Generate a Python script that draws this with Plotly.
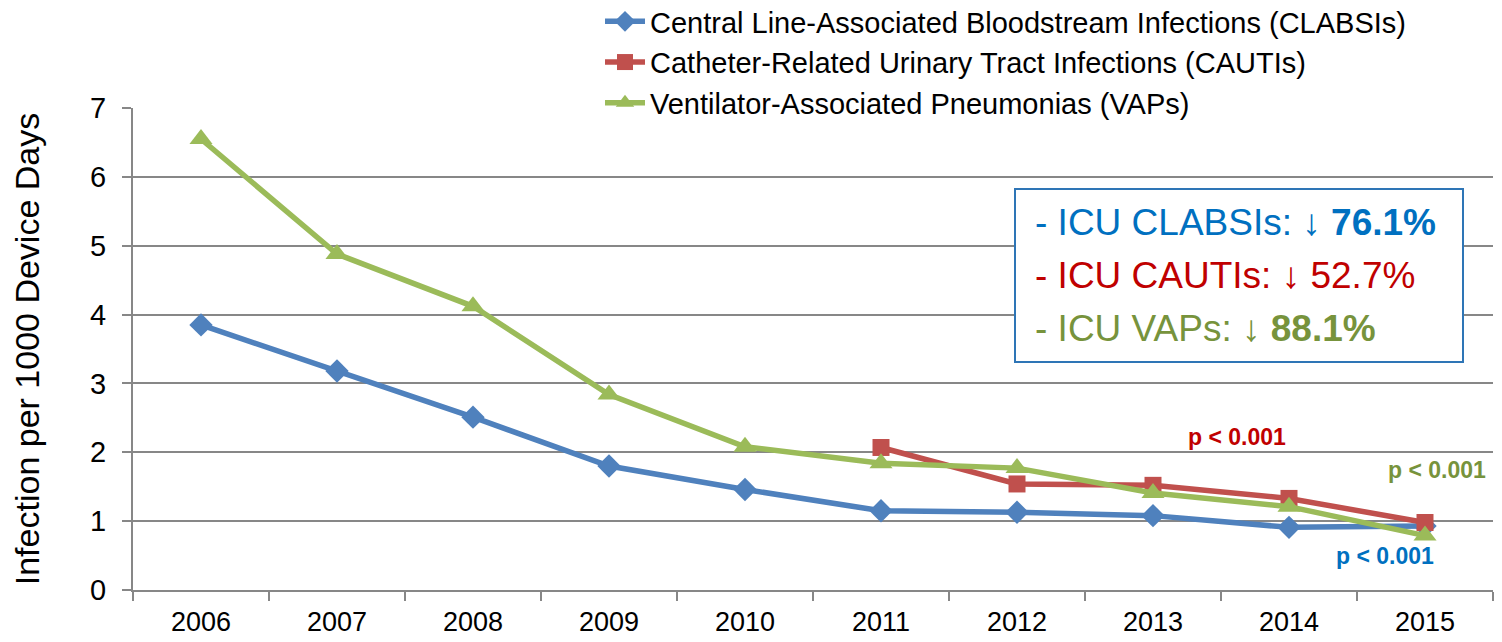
import plotly.graph_objects as go

years = ["2006", "2007", "2008", "2009", "2010", "2011", "2012", "2013", "2014", "2015"]
clabsi = [3.85, 3.18, 2.51, 1.80, 1.46, 1.15, 1.13, 1.08, 0.91, 0.93]
cauti = [None, None, None, None, None, 2.07, 1.54, 1.52, 1.33, 0.98]
vap = [6.55, 4.88, 4.12, 2.84, 2.08, 1.84, 1.77, 1.41, 1.21, 0.79]

names = ["Central Line-Associated Bloodstream Infections (CLABSIs)",
         "Catheter-Related Urinary Tract Infections (CAUTIs)",
         "Ventilator-Associated Pneumonias (VAPs)"]
y_ticks = [0, 1, 2, 3, 4, 5, 6, 7]

FONT = "Liberation Sans, Arial, sans-serif"

# page offset (default body margin) compensation
OFF = 8
L, T, R, B = 133, 108, 1493, 590  # plot area in page pixels
W, H = 1502 - OFF, 642 - OFF
PW, PH = R - L, B - T


def px(x):
    return (x - L) / PW


def py(y):
    return (B - y) / PH


fig = go.Figure()
fig.add_trace(go.Scatter(x=years, y=clabsi, name=names[0], mode="lines+markers",
                         line=dict(color="#4F81BD", width=5.5),
                         marker=dict(symbol="diamond", size=18, color="#4F81BD")))
fig.add_trace(go.Scatter(x=years, y=cauti, name=names[1], mode="lines+markers",
                         line=dict(color="#C0504D", width=5.5),
                         marker=dict(symbol="square", size=17, color="#C0504D")))
fig.add_trace(go.Scatter(x=years, y=vap, name=names[2], mode="lines+markers",
                         line=dict(color="#9BBB59", width=5.5),
                         marker=dict(symbol="triangle-up", size=20, color="#9BBB59")))

grid = "#878787"
fig.update_layout(
    width=W, height=H,
    margin=dict(l=L - OFF, r=W - (R - OFF), t=T - OFF, b=H - (B - OFF), autoexpand=False),
    paper_bgcolor="white", plot_bgcolor="white",
    font=dict(family=FONT, color="black"),
    showlegend=True,
    legend=dict(x=px(600), y=py(-4), xanchor="left", yanchor="top",
                font=dict(size=29, family=FONT), bgcolor="rgba(0,0,0,0)",
                tracegroupgap=0, itemwidth=40),
    xaxis=dict(type="category", range=[-0.5, 9.5], tickson="boundaries",
               ticks="outside", ticklen=9, tickwidth=2, tickcolor=grid,
               showline=True, linecolor=grid, linewidth=2, showgrid=False,
               ticklabelstandoff=7,
               tickfont=dict(size=27, family=FONT)),
    yaxis=dict(range=[0, 7], tickvals=y_ticks, ticks="outside", ticklen=9,
               tickwidth=2, tickcolor=grid, showline=True, linecolor=grid,
               linewidth=2, showgrid=True, gridcolor=grid, gridwidth=2,
               zeroline=False, ticklabelstandoff=10,
               tickfont=dict(size=29, family=FONT),
               title=dict(text="Infection per 1000 Device Days",
                          font=dict(size=34, family=FONT), standoff=40)),
)

# white band hiding the top gridline behind the legend
fig.add_shape(type="rect", xref="paper", yref="paper", x0=px(545), x1=px(1481),
              y0=py(113), y1=py(103), fillcolor="white", line=dict(width=0),
              layer="above")

blue_t, red_t, green_t = "#0070C0", "#C00000", "#77933C"
fig.add_shape(type="rect", xref="paper", yref="paper",
              x0=px(1015), x1=px(1463), y0=py(362), y1=py(189),
              line=dict(color="#2E75B6", width=2), fillcolor="white", layer="above")
box_lines = [
    ("- ICU CLABSIs: ↓ <b>76.1%</b>", blue_t, 222),
    ("- ICU CAUTIs: ↓ 52.7%", red_t, 275),
    ("- ICU VAPs: ↓ <b>88.1%</b>", green_t, 328),
]
for txt, col, ypx in box_lines:
    fig.add_annotation(xref="paper", yref="paper", x=px(1033),
                       y=py(ypx), xanchor="left", yanchor="middle",
                       text=txt, showarrow=False,
                       font=dict(size=37, color=col, family=FONT))

p_labels = [("<b>p < 0.001</b>", red_t, 1237, 437),
            ("<b>p < 0.001</b>", green_t, 1437, 470),
            ("<b>p < 0.001</b>", blue_t, 1385, 556)]
for txt, col, xpx, ypx in p_labels:
    fig.add_annotation(xref="paper", yref="paper", x=px(xpx),
                       y=py(ypx), xanchor="center", yanchor="middle",
                       text=txt, showarrow=False,
                       font=dict(size=23, color=col, family=FONT))

fig.write_html("out.html")
